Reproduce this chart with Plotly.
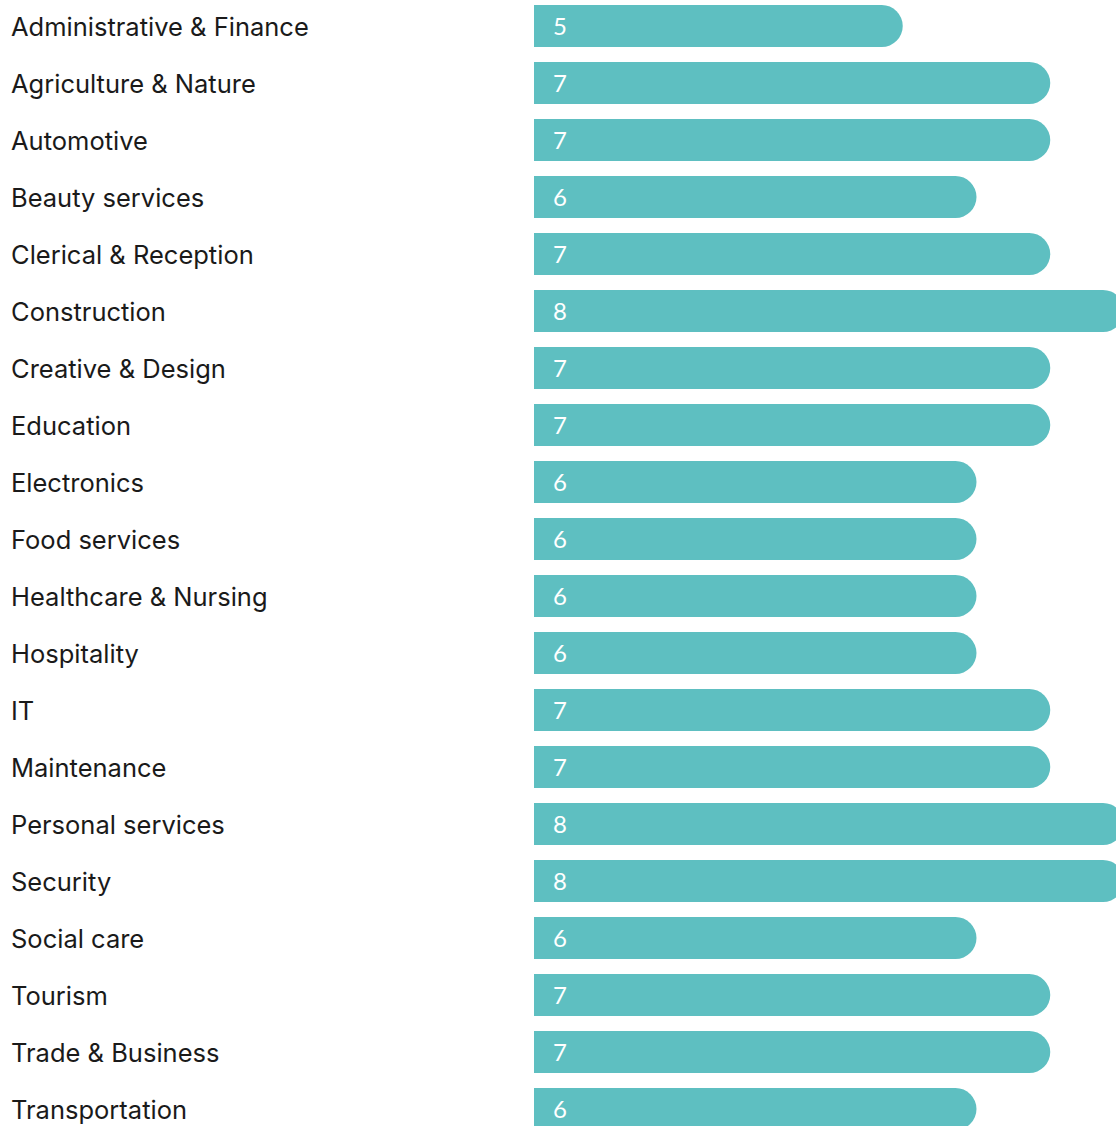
import plotly.graph_objects as go

categories = ["Administrative & Finance", "Agriculture & Nature", "Automotive", "Beauty services",
              "Clerical & Reception", "Construction", "Creative & Design", "Education", "Electronics",
              "Food services", "Healthcare & Nursing", "Hospitality", "IT", "Maintenance",
              "Personal services", "Security", "Social care", "Tourism", "Trade & Business",
              "Transportation"]
values = [5, 7, 7, 6, 7, 8, 7, 7, 6, 6, 6, 6, 7, 7, 8, 8, 6, 7, 7, 6]

W, H = 1116, 1126
left = 534
px_per_unit = 73.75
row = 57.0
first_center = 26.0

fig = go.Figure(go.Bar(
    x=values, y=categories, orientation="h",
    marker=dict(color="#5EBFC1", cornerradius=21, line=dict(width=0)),
    hoverinfo="skip",
))

annotations = []
for c, v in zip(categories, values):
    annotations.append(dict(x=(9 - left) / (W - left), xref="paper", y=c, yref="y",
                            text=c, showarrow=False, xanchor="left", yanchor="middle",
                            font=dict(family="Inter", size=25.5, color="#1a1a1a")))
    annotations.append(dict(x=0, xref="x", y=c, yref="y", xshift=17, yshift=1,
                            text=str(v), showarrow=False, xanchor="left", yanchor="middle",
                            font=dict(family="Lato", size=24, color="#ffffff")))

n_rows = H / row
r0 = -first_center / row
fig.update_layout(
    width=W, height=H,
    margin=dict(l=left, r=0, t=0, b=0),
    paper_bgcolor="white", plot_bgcolor="white",
    bargap=1 - 42 / row,
    showlegend=False,
    xaxis=dict(range=[0, (W - left) / px_per_unit], visible=False, fixedrange=True),
    yaxis=dict(type="category", range=[r0 + n_rows, r0], showticklabels=False,
               showgrid=False, zeroline=False, ticks="", fixedrange=True),
    annotations=annotations,
)

fig.write_html("out.html", config={"displayModeBar": False},
               post_script="document.body.style.margin='0';document.body.style.overflow='hidden';")
